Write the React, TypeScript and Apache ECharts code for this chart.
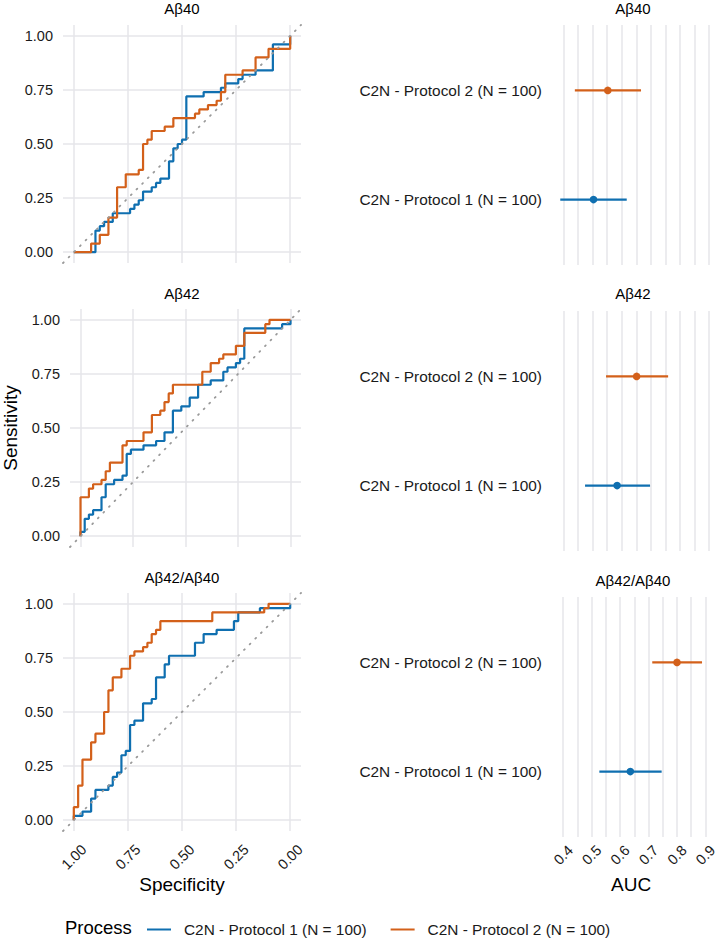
import React, { useEffect, useRef } from 'react';
import * as echarts from 'echarts';

const panelTitles = ['Aβ40', 'Aβ42', 'Aβ42/Aβ40'];
const processNames = ['C2N - Protocol 1 (N = 100)', 'C2N - Protocol 2 (N = 100)'];
const processColors = ['#0F6FB0', '#D3601A'];

// ROC curves: (specificity, sensitivity) turning points
const ab40P1Spec = [1.0, 0.9, 0.88, 0.86, 0.82, 0.74, 0.72, 0.7, 0.68, 0.64, 0.62, 0.6, 0.56, 0.54, 0.52, 0.5, 0.48, 0.4, 0.32, 0.3, 0.24, 0.22, 0.16, 0.08, 0.0];
const ab40P1Sens = [0.0, 0.1, 0.12, 0.14, 0.18, 0.2, 0.22, 0.24, 0.28, 0.3, 0.32, 0.34, 0.42, 0.48, 0.5, 0.52, 0.72, 0.74, 0.76, 0.78, 0.8, 0.82, 0.84, 0.96, 1.0];
const ab40P2Spec = [1.0, 0.92, 0.88, 0.84, 0.8, 0.76, 0.7, 0.68, 0.66, 0.64, 0.58, 0.54, 0.44, 0.42, 0.38, 0.34, 0.32, 0.3, 0.22, 0.16, 0.1, 0.0];
const ab40P2Sens = [0.0, 0.04, 0.08, 0.16, 0.3, 0.36, 0.38, 0.5, 0.52, 0.56, 0.58, 0.62, 0.64, 0.66, 0.68, 0.7, 0.74, 0.82, 0.84, 0.9, 0.94, 1.0];

const ab42P1Spec = [1.0, 1.0, 0.98, 0.96, 0.94, 0.9, 0.88, 0.84, 0.8, 0.78, 0.76, 0.7, 0.64, 0.6, 0.56, 0.52, 0.48, 0.44, 0.38, 0.32, 0.3, 0.26, 0.24, 0.22, 0.04, 0.0];
const ab42P1Sens = [0.0, 0.02, 0.08, 0.1, 0.12, 0.18, 0.24, 0.26, 0.28, 0.38, 0.4, 0.42, 0.44, 0.48, 0.58, 0.6, 0.64, 0.7, 0.72, 0.76, 0.78, 0.8, 0.82, 0.96, 0.98, 1.0];
const ab42P2Spec = [1.0, 1.0, 0.96, 0.94, 0.9, 0.88, 0.86, 0.8, 0.78, 0.7, 0.66, 0.62, 0.6, 0.58, 0.56, 0.42, 0.38, 0.34, 0.32, 0.26, 0.22, 0.12, 0.1, 0.0];
const ab42P2Sens = [0.0, 0.18, 0.22, 0.24, 0.26, 0.3, 0.34, 0.42, 0.44, 0.48, 0.56, 0.58, 0.62, 0.66, 0.7, 0.76, 0.8, 0.82, 0.84, 0.88, 0.94, 0.98, 1.0, 1.0];

const ratioP1Spec = [1.0, 1.0, 0.96, 0.92, 0.9, 0.84, 0.82, 0.8, 0.78, 0.76, 0.74, 0.72, 0.68, 0.64, 0.62, 0.58, 0.56, 0.44, 0.4, 0.34, 0.26, 0.24, 0.14, 0.0];
const ratioP1Sens = [0.0, 0.02, 0.04, 0.1, 0.14, 0.16, 0.2, 0.22, 0.3, 0.32, 0.44, 0.46, 0.54, 0.56, 0.66, 0.72, 0.76, 0.82, 0.86, 0.88, 0.92, 0.96, 0.98, 1.0];
const ratioP2Spec = [1.0, 1.0, 0.98, 0.96, 0.92, 0.9, 0.86, 0.84, 0.82, 0.78, 0.74, 0.72, 0.68, 0.66, 0.64, 0.62, 0.6, 0.36, 0.12, 0.1, 0.0];
const ratioP2Sens = [0.0, 0.06, 0.16, 0.28, 0.36, 0.4, 0.5, 0.6, 0.66, 0.7, 0.76, 0.78, 0.8, 0.82, 0.86, 0.88, 0.92, 0.96, 0.98, 1.0, 1.0];

// AUC estimates with 95% CI, [Protocol 1, Protocol 2]
const aucAb40 = [0.503, 0.552];
const aucAb40Lo = [0.389, 0.439];
const aucAb40Hi = [0.617, 0.666];
const aucAb42 = [0.584, 0.651];
const aucAb42Lo = [0.474, 0.546];
const aucAb42Hi = [0.697, 0.759];
const aucRatio = [0.636, 0.8];
const aucRatioLo = [0.527, 0.713];
const aucRatioHi = [0.746, 0.888];

const rocTicks = [0, 0.25, 0.5, 0.75, 1];
const aucTicks = [0.4, 0.5, 0.6, 0.7, 0.8, 0.9];
const aucGrid = [0.4, 0.45, 0.5, 0.55, 0.6, 0.65, 0.7, 0.75, 0.8, 0.85, 0.9];

const FONT = '"Liberation Sans", Arial, Helvetica, sans-serif';
const TXT = '#1a1a1a';
const GRID_COLOR = '#E6E6EA';

export default function App() {
  const ref = useRef<HTMLDivElement>(null);

  useEffect(() => {
    document.body.style.margin = '0';
    if (!ref.current) return;
    const chart = echarts.init(ref.current, undefined, { renderer: 'svg' });

    const rocCurves = [
      [[ab40P1Spec, ab40P1Sens], [ab40P2Spec, ab40P2Sens]],
      [[ab42P1Spec, ab42P1Sens], [ab42P2Spec, ab42P2Sens]],
      [[ratioP1Spec, ratioP1Sens], [ratioP2Spec, ratioP2Sens]],
    ];
    const aucSets = [
      [aucAb40, aucAb40Lo, aucAb40Hi],
      [aucAb42, aucAb42Lo, aucAb42Hi],
      [aucRatio, aucRatioLo, aucRatioHi],
    ];
    const allLo = Math.min(...aucSets.map((s) => Math.min(...s[1])));
    const allHi = Math.max(...aucSets.map((s) => Math.max(...s[2])));
    const span = allHi - allLo;
    const aucMin = allLo - 0.05 * span;
    const aucMax = allHi + 0.05 * span;
    const rocMin = -0.05;
    const rocMax = 1.05;
    const catMin = 0.4;
    const catMax = 2.6;

    const leftTops = [25, 309, 593];
    const rightTops = [25, 311, 597];

    const grid: any[] = [];
    const xAxis: any[] = [];
    const yAxis: any[] = [];
    const series: any[] = [];
    const graphic: any[] = [];

    const tickLabelStyle = { color: TXT, fontSize: 14.5, fontFamily: FONT };

    for (let i = 0; i < 3; i++) {
      grid.push({ left: 63, top: leftTops[i], width: 238, height: 238 });
      xAxis.push({
        gridIndex: i,
        type: 'value',
        inverse: true,
        min: rocMin,
        max: rocMax,
        axisLine: { show: false },
        axisTick: { show: false },
        splitLine: { show: false },
        axisLabel: {
          show: i === 2,
          customValues: rocTicks,
          formatter: (v: number) => v.toFixed(2),
          rotate: 45,
          align: 'center',
          verticalAlign: 'middle',
          margin: 26,
          ...tickLabelStyle,
        },
        name: i === 2 ? 'Specificity' : '',
        nameLocation: 'middle',
        nameGap: 44,
        nameTextStyle: { fontSize: 19, color: '#000', fontFamily: FONT },
      });
      yAxis.push({
        gridIndex: i,
        type: 'value',
        min: rocMin,
        max: rocMax,
        axisLine: { show: false },
        axisTick: { show: false },
        splitLine: { show: false },
        axisLabel: {
          customValues: rocTicks,
          formatter: (v: number) => v.toFixed(2),
          margin: 10,
          ...tickLabelStyle,
        },
        name: i === 1 ? 'Sensitivity' : '',
        nameLocation: 'middle',
        nameGap: 50,
        nameTextStyle: { fontSize: 19, color: '#000', fontFamily: FONT },
      });
    }
    for (let i = 0; i < 3; i++) {
      grid.push({ left: 553, top: rightTops[i], width: 160, height: 240 });
      xAxis.push({
        gridIndex: 3 + i,
        type: 'value',
        min: aucMin,
        max: aucMax,
        axisLine: { show: false },
        axisTick: { show: false },
        splitLine: { show: false },
        axisLabel: {
          show: i === 2,
          customValues: aucTicks,
          formatter: (v: number) => v.toFixed(1),
          rotate: 45,
          align: 'center',
          verticalAlign: 'middle',
          margin: 18,
          ...tickLabelStyle,
        },
        name: i === 2 ? 'AUC' : '',
        nameLocation: 'middle',
        nameGap: 38,
        nameTextStyle: { fontSize: 19, color: '#000', fontFamily: FONT },
      });
      yAxis.push({
        gridIndex: 3 + i,
        type: 'value',
        min: catMin,
        max: catMax,
        axisLine: { show: false },
        axisTick: { show: false },
        splitLine: { show: false },
        axisLabel: {
          customValues: [1, 2],
          formatter: (v: number) => processNames[Math.round(v) - 1],
          margin: 11,
          color: TXT,
          fontSize: 15.4,
          fontFamily: FONT,
        },
      });
    }

    // ROC panels
    for (let i = 0; i < 3; i++) {
      const gl: any[] = [];
      rocTicks.forEach((t) => {
        gl.push({ coords: [[t, rocMin], [t, rocMax]] });
        gl.push({ coords: [[rocMin, t], [rocMax, t]] });
      });
      series.push({
        type: 'lines',
        coordinateSystem: 'cartesian2d',
        xAxisIndex: i,
        yAxisIndex: i,
        silent: true,
        z: 1,
        data: gl,
        lineStyle: { color: GRID_COLOR, width: 1.5, opacity: 1 },
      });
      rocCurves[i].forEach(([spec, sens], p) => {
        series.push({
          type: 'line',
          name: processNames[p],
          xAxisIndex: i,
          yAxisIndex: i,
          step: 'end',
          showSymbol: false,
          symbol: 'none',
          z: 3 + p,
          color: processColors[p],
          itemStyle: { color: processColors[p] },
          lineStyle: { color: processColors[p], width: 2.2 },
          data: spec.map((s: number, k: number) => [s, sens[k]]),
        });
      });
      series.push({
        type: 'line',
        name: 'diagonal',
        xAxisIndex: i,
        yAxisIndex: i,
        showSymbol: false,
        symbol: 'none',
        silent: true,
        z: 6,
        lineStyle: { color: '#9a9a9a', width: 1.8, type: [1, 7], cap: 'round' },
        data: [[rocMax, rocMin], [rocMin, rocMax]],
      });
    }

    // AUC panels
    for (let i = 0; i < 3; i++) {
      const gi = 3 + i;
      series.push({
        type: 'lines',
        coordinateSystem: 'cartesian2d',
        xAxisIndex: gi,
        yAxisIndex: gi,
        silent: true,
        z: 1,
        data: aucGrid.map((v) => ({ coords: [[v, catMin], [v, catMax]] })),
        lineStyle: { color: GRID_COLOR, width: 1.5, opacity: 1 },
      });
      const [est, lo, hi] = aucSets[i];
      for (let p = 0; p < 2; p++) {
        const col = processColors[p];
        series.push({
          type: 'custom',
          name: processNames[p],
          xAxisIndex: gi,
          yAxisIndex: gi,
          z: 3,
          color: col,
          itemStyle: { color: col },
          encode: { x: [0, 1, 2], y: 3 },
          data: [[est[p], lo[p], hi[p], p + 1]],
          renderItem: (params: any, api: any) => {
            const y = api.value(3);
            const a = api.coord([api.value(1), y]);
            const b = api.coord([api.value(2), y]);
            const c = api.coord([api.value(0), y]);
            return {
              type: 'group',
              children: [
                { type: 'line', shape: { x1: a[0], y1: a[1], x2: b[0], y2: b[1] }, style: { stroke: col, lineWidth: 2.2 } },
                { type: 'circle', shape: { cx: c[0], cy: c[1], r: 3.8 }, style: { fill: col } },
              ],
            };
          },
        });
      }
    }

    const titleY = [[8, 293, 577], [8, 293, 580]];
    for (let i = 0; i < 3; i++) {
      graphic.push({
        type: 'text',
        x: 182,
        y: titleY[0][i],
        style: { text: panelTitles[i], fontSize: 15, fontFamily: FONT, fill: '#000', align: 'center', verticalAlign: 'middle' },
      });
      graphic.push({
        type: 'text',
        x: 633,
        y: titleY[1][i],
        style: { text: panelTitles[i], fontSize: 15, fontFamily: FONT, fill: '#000', align: 'center', verticalAlign: 'middle' },
      });
    }
    graphic.push({
      type: 'text',
      x: 65,
      y: 927,
      style: { text: 'Process', fontSize: 18.5, fontFamily: FONT, fill: '#000', align: 'left', verticalAlign: 'middle' },
    });

    chart.setOption({
      animation: false,
      textStyle: { fontFamily: FONT },
      grid,
      xAxis,
      yAxis,
      series,
      graphic,
      legend: {
        data: processNames.map((n) => ({ name: n, icon: 'rect' })),
        left: 142,
        top: 917,
        itemWidth: 24,
        itemHeight: 2,
        itemGap: 24,
        selectedMode: false,
        textStyle: { fontSize: 15.4, color: TXT, fontFamily: FONT, padding: [0, 0, 0, 8] },
      },
    });

    return () => {
      chart.dispose();
    };
  }, []);

  return <div ref={ref} style={{ width: 720, height: 939 }} />;
}
